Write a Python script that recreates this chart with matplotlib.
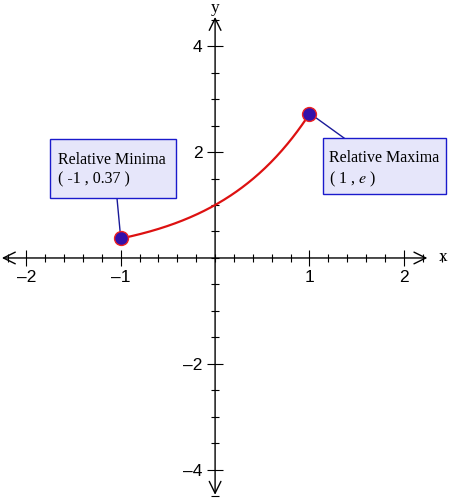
import matplotlib.pyplot as plt
from matplotlib.patches import Rectangle
from matplotlib.ticker import MultipleLocator
import numpy as np

plt.rcParams['mathtext.fontset'] = 'stix'

# data
x_range = [-1, 1]
min_pt = (-1, np.exp(-1))
max_pt = (1, np.e)
xticks = [-2, -1, 1, 2]
yticks = [-4, -2, 2, 4]
min_label = "Relative Minima\n( -1 , 0.37 )"
max_label = "Relative Maxima\n( 1 , $e$ )"

fig = plt.figure(figsize=(4.5, 4.99), dpi=100)
ax = fig.add_axes([0, 0, 1, 1])
ax.set_xlim(-2.28, 2.49)
ax.set_ylim(-4.55, 4.87)

for s in ['top', 'right', 'left', 'bottom']:
    ax.spines[s].set_visible(False)
ax.spines['left'].set_position(('data', 0))
ax.spines['bottom'].set_position(('data', 0))

# axes with open arrowheads
arrow = dict(arrowstyle='<->,head_length=0.85,head_width=0.42', color='black',
             lw=1.0, shrinkA=0, shrinkB=0, mutation_scale=10)
ax.annotate('', xy=(2.25, 0), xytext=(-2.26, 0), arrowprops=arrow)
ax.annotate('', xy=(0, 4.55), xytext=(0, -4.47), arrowprops=arrow)
ax.text(2.37, 0.02, 'x', fontsize=12.5, family='Liberation Serif', va='center', ha='left')
ax.text(0, 4.71, 'y', fontsize=12.5, family='Liberation Serif', va='center', ha='center')

ax.set_xticks(xticks)
ax.set_yticks(yticks)
ax.set_xticklabels(['\u2013' + str(-t) if t < 0 else str(t) for t in xticks])
ax.set_yticklabels(['\u2013' + str(-t) if t < 0 else str(t) for t in yticks])
ax.xaxis.set_minor_locator(MultipleLocator(0.2))
ax.yaxis.set_minor_locator(MultipleLocator(0.5))
ax.tick_params(which='major', direction='inout', length=12, width=0.8,
               labelsize=12.5, pad=3)
ax.tick_params(which='minor', direction='inout', length=6, width=0.8)
for lab in ax.get_xticklabels() + ax.get_yticklabels():
    lab.set_family('Liberation Sans')

# curve
xs = np.linspace(x_range[0], x_range[1], 200)
ax.plot(xs, np.exp(xs), color='#dd1111', lw=1.6, zorder=3)

# callout boxes
box_style = dict(facecolor='#e6e6fa', edgecolor='#1a1acc', lw=1.0, zorder=4)
ax.add_patch(Rectangle((-1.75, 1.13), 1.34, 1.115, **box_style))
ax.add_patch(Rectangle((1.145, 1.21), 1.305, 1.05, **box_style))
ax.plot([min_pt[0] - 0.04, min_pt[0]], [1.13, min_pt[1]], color='#1a1a99', lw=1.0, zorder=3)
ax.plot([max_pt[0] + 0.06, 1.37], [max_pt[1] - 0.06, 2.26], color='#1a1a99', lw=1.0, zorder=3)

ax.text(-1.66, 2.0, min_label, fontsize=11.5, family='Liberation Serif',
        va='top', ha='left', linespacing=1.25, zorder=5)
ax.text(1.21, 2.03, max_label, fontsize=11.5, family='Liberation Serif',
        va='top', ha='left', linespacing=1.25, zorder=5)

# points
ax.plot([min_pt[0], max_pt[0]], [min_pt[1], max_pt[1]], 'o', ms=10,
        mfc='#3311aa', mec='#ee2222', mew=1.0, zorder=6)

fig.savefig('out.png', dpi=100)
